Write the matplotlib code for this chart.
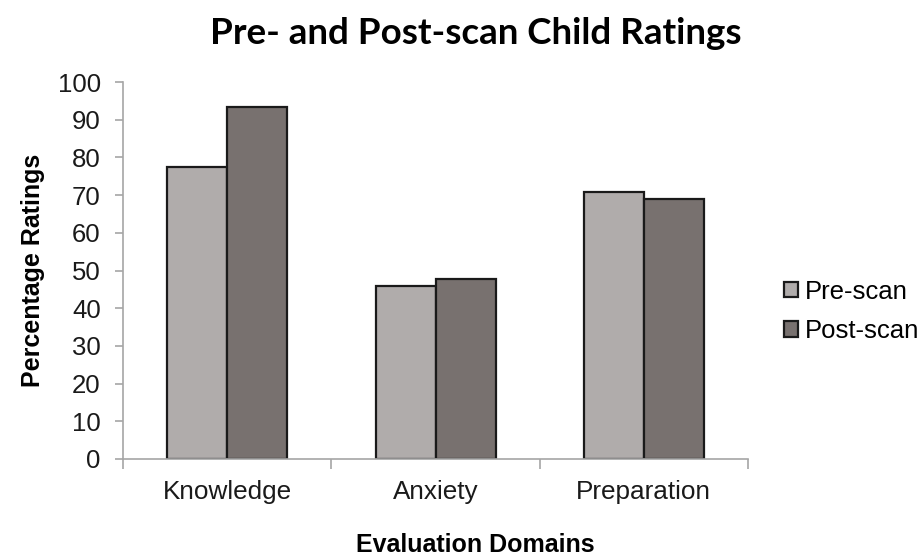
import numpy as np
import matplotlib.pyplot as plt

domains = ["Knowledge", "Anxiety", "Preparation"]
pre_scan = [77.4, 45.9, 70.8]
post_scan = [93.5, 47.7, 68.9]

pre_color = "#b0acab"
post_color = "#78716f"
axis_gray = "#a6a6a6"

fig = plt.figure(figsize=(9.22, 5.59), dpi=100)
ax = fig.add_axes([0.1334, 0.1789, 0.6779, 0.6744])

x = np.arange(len(domains))
w = 0.288
ax.bar(x - w / 2, pre_scan, w, color=pre_color, edgecolor="#1a1a1a", linewidth=1.6, label="Pre-scan")
ax.bar(x + w / 2, post_scan, w, color=post_color, edgecolor="#1a1a1a", linewidth=1.6, label="Post-scan")

ax.set_xlim(-0.5, len(domains) - 0.5)
ax.set_ylim(0, 100)
ax.set_yticks(range(0, 101, 10))
ax.set_xticks(x)
ax.set_xticklabels(domains)
ax.set_xticks(np.arange(-0.5, len(domains), 1.0), minor=True)

for s in ["top", "right"]:
    ax.spines[s].set_visible(False)
for s in ["left", "bottom"]:
    ax.spines[s].set_color(axis_gray)
    ax.spines[s].set_linewidth(1.2)

ax.tick_params(axis="x", which="major", length=0, pad=15, labelsize=18.8, labelcolor="#1a1a1a")
ax.tick_params(axis="x", which="minor", length=7, width=1.2, color=axis_gray, direction="out")
ax.tick_params(axis="y", length=6, width=1.2, color=axis_gray, pad=10, labelsize=18.5, labelcolor="#1a1a1a")
for t in ax.get_xticklabels() + ax.get_yticklabels():
    t.set_family("Liberation Sans")

ax.set_ylabel("Percentage Ratings", fontsize=18, fontweight="bold", family="Liberation Sans", labelpad=9)
fig.text(0.515, 0.012, "Evaluation Domains", fontsize=18, fontweight="bold", family="Liberation Sans",
         ha="center", va="baseline")
fig.text(0.516, 0.922, "Pre- and Post-scan Child Ratings", fontsize=26.5, fontweight="bold", family="Lato",
         ha="center", va="baseline")

ax.legend(loc="center left", bbox_to_anchor=(0.8503, 0.4428), bbox_transform=fig.transFigure,
          frameon=False, borderpad=0, borderaxespad=0,
          prop={"family": "Liberation Sans", "size": 18.5}, handlelength=0.55, handleheight=0.55,
          handletextpad=0.27, labelspacing=0.6)

fig.savefig("out.png", dpi=100)
